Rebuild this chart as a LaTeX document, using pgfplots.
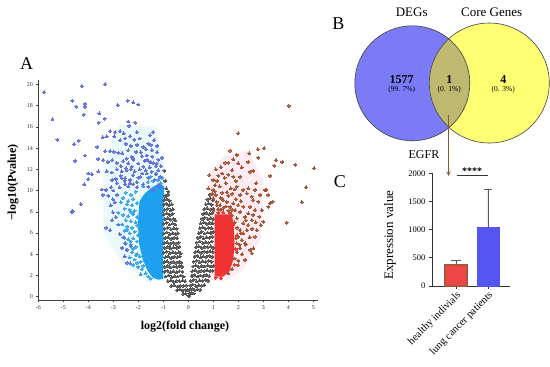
\documentclass[border=0pt]{standalone}
\usepackage{fontspec}
\setmainfont{Liberation Serif}
\usepackage{pgfplots}
\pgfplotsset{compat=1.18}
\definecolor{vblue}{RGB}{100,112,220}
\definecolor{vcyan}{RGB}{30,160,240}
\definecolor{vcyanb}{RGB}{60,165,238}
\definecolor{vred}{RGB}{240,50,50}
\definecolor{vbrown}{RGB}{165,85,50}
\definecolor{vgrey}{RGB}{88,88,88}
\definecolor{palecyan}{RGB}{234,250,252}
\definecolor{palepink}{RGB}{253,236,243}
\definecolor{cblue}{RGB}{123,123,248}
\definecolor{cyellow}{RGB}{255,255,115}
\definecolor{colive}{RGB}{190,184,112}
\definecolor{arrowbrown}{RGB}{140,90,40}
\definecolor{hred}{RGB}{240,70,70}
\definecolor{hedge}{RGB}{170,85,60}
\definecolor{lblue}{RGB}{85,85,242}
\pgfplotsset{dots/.style={only marks, mark=*, color=#1, mark size=1.45pt, mark options={line width=0pt}}}
\begin{document}
\begin{tikzpicture}
\path[use as bounding box] (0,0) rectangle (550pt,367pt);
% ---------------- Volcano plot ----------------
\begin{axis}[at={(38.3pt,67.1pt)}, anchor=south west, scale only axis,
 width=280pt, height=219.8pt,
 xmin=-6, xmax=5.2, ymin=-0.3, ymax=20.4,
 axis lines=left, axis line style={-, line width=0.6pt, black!75},
 xtick={-6,-5,...,5}, ytick={0,2,...,20},
 tick align=outside, major tick length=2pt, tick style={line width=0.5pt, black!75},
 ticklabel style={font=\fontsize{6}{6}\selectfont, black!80},
 /pgf/number format/assume math mode=true,
 xlabel={\bfseries log2(fold change)}, ylabel={\bfseries −log10(Pvalue)},
 x label style={at={(axis description cs:0.524,-0.123)}, anchor=center, font=\fontsize{12}{12}\selectfont},
 y label style={at={(axis description cs:-0.09,0.534)}, anchor=center, font=\fontsize{12}{12}\selectfont},
 clip=false]
% pale highlight backgrounds
\addplot[fill=palecyan, draw=none] coordinates {
(-0.9,1.5)(-0.9,11.5)(-1.3,16.0)(-2.8,16.2)(-3.4,12.0)(-3.4,6.0)(-2.6,3.0)(-1.6,1.4)};
\addplot[fill=palepink, draw=none] coordinates {
(0.85,1.6)(0.85,11.5)(1.4,13.2)(2.4,13.8)(3.0,11.0)(2.9,5.5)(2.2,2.5)(1.4,1.4)};
% grey (not significant)
\addplot[dots=vgrey] coordinates {
(-0.93,9.5)(-0.82,9.6)
(-0.97,9.1)(-0.86,9.2)(-0.75,9.05)
(-0.99,8.65)(-0.88,8.75)(-0.77,8.6)(-0.66,8.7)
(-0.95,8.2)(-0.83,8.3)(-0.71,8.15)(-0.62,8.25)
(-0.98,7.75)(-0.86,7.85)(-0.74,7.7)(-0.63,7.8)
(-0.94,7.3)(-0.82,7.4)(-0.7,7.25)(-0.58,7.35)(-0.52,7.2)
(-0.99,6.85)(-0.87,6.95)(-0.75,6.8)(-0.63,6.9)(-0.52,6.8)
(-0.95,6.4)(-0.82,6.5)(-0.7,6.35)(-0.58,6.45)(-0.47,6.4)
(-0.98,5.95)(-0.86,6.05)(-0.74,5.9)(-0.62,6.0)(-0.5,5.9)(-0.42,6.0)
(-0.93,5.5)(-0.81,5.6)(-0.69,5.45)(-0.57,5.55)(-0.45,5.5)
(-0.97,5.05)(-0.85,5.15)(-0.73,5.0)(-0.61,5.1)(-0.49,5.0)(-0.38,5.1)
(-0.94,4.6)(-0.82,4.7)(-0.7,4.55)(-0.58,4.65)(-0.46,4.6)(-0.36,4.7)
(-0.98,4.15)(-0.86,4.25)(-0.74,4.1)(-0.62,4.2)(-0.5,4.1)(-0.38,4.2)(-0.31,4.1)
(-0.93,3.7)(-0.81,3.8)(-0.69,3.65)(-0.57,3.75)(-0.45,3.7)(-0.34,3.8)
(-0.97,3.25)(-0.85,3.35)(-0.73,3.2)(-0.61,3.3)(-0.49,3.2)(-0.37,3.3)(-0.28,3.2)
(-0.94,2.8)(-0.82,2.9)(-0.7,2.75)(-0.58,2.85)(-0.46,2.8)(-0.34,2.9)(-0.25,2.8)
(-0.96,2.35)(-0.84,2.45)(-0.72,2.3)(-0.6,2.4)(-0.48,2.3)(-0.36,2.4)(-0.24,2.35)
(-0.9,1.9)(-0.78,2.0)(-0.66,1.85)(-0.54,1.95)(-0.42,1.9)(-0.3,2.0)(-0.19,1.9)
(-0.82,1.45)(-0.7,1.55)(-0.58,1.4)(-0.46,1.5)(-0.34,1.45)(-0.22,1.55)(-0.13,1.45)
(-0.68,1.0)(-0.56,1.1)(-0.44,0.95)(-0.32,1.05)(-0.2,1.0)(-0.09,1.05)
(-0.45,0.6)(-0.34,0.7)(-0.23,0.55)(-0.12,0.65)(-0.04,0.6)
(-0.2,0.25)(-0.1,0.3)(0.0,0.1)
(-0.96,11.87)(-0.92,10.9)(-0.88,10.2)(-0.8,9.9)
(0.86,9.6)(0.96,9.7)
(0.75,9.15)(0.87,9.25)(0.98,9.1)
(0.7,8.7)(0.81,8.8)(0.93,8.65)
(0.64,8.25)(0.76,8.35)(0.88,8.2)(0.99,8.3)
(0.6,7.8)(0.71,7.9)(0.83,7.75)(0.95,7.85)
(0.55,7.35)(0.66,7.45)(0.78,7.3)(0.9,7.4)(1.0,7.3)
(0.5,6.9)(0.62,7.0)(0.74,6.85)(0.86,6.95)(0.97,6.9)
(0.46,6.45)(0.57,6.55)(0.69,6.4)(0.81,6.5)(0.93,6.45)
(0.42,6.0)(0.53,6.1)(0.65,5.95)(0.77,6.05)(0.89,6.0)(0.99,6.1)
(0.38,5.55)(0.49,5.65)(0.61,5.5)(0.73,5.6)(0.85,5.55)(0.96,5.65)
(0.34,5.1)(0.46,5.2)(0.58,5.05)(0.7,5.15)(0.82,5.1)(0.94,5.2)
(0.31,4.65)(0.42,4.75)(0.54,4.6)(0.66,4.7)(0.78,4.65)(0.9,4.75)(1.0,4.6)
(0.28,4.2)(0.39,4.3)(0.51,4.15)(0.63,4.25)(0.75,4.2)(0.87,4.3)(0.98,4.2)
(0.25,3.75)(0.36,3.85)(0.48,3.7)(0.6,3.8)(0.72,3.75)(0.84,3.85)(0.95,3.75)
(0.22,3.3)(0.33,3.4)(0.45,3.25)(0.57,3.35)(0.69,3.3)(0.81,3.4)(0.93,3.3)
(0.19,2.85)(0.3,2.95)(0.42,2.8)(0.54,2.9)(0.66,2.85)(0.78,2.95)(0.9,2.85)(1.0,2.9)
(0.16,2.4)(0.27,2.5)(0.39,2.35)(0.51,2.45)(0.63,2.4)(0.75,2.5)(0.87,2.4)(0.97,2.45)
(0.13,1.95)(0.24,2.05)(0.36,1.9)(0.48,2.0)(0.6,1.95)(0.72,2.05)(0.84,1.95)
(0.1,1.5)(0.21,1.6)(0.33,1.45)(0.45,1.55)(0.57,1.5)(0.69,1.6)(0.79,1.5)
(0.07,1.05)(0.18,1.15)(0.3,1.0)(0.42,1.1)(0.54,1.05)(0.64,1.1)
(0.05,0.65)(0.15,0.75)(0.26,0.6)(0.37,0.7)(0.47,0.65)
(0.03,0.3)(0.12,0.35)(0.22,0.3)(0.02,0.08)
};
% dense down-regulated core
\addplot[fill=vcyan, draw=none] coordinates {
(-1.0,1.7)(-0.98,10.4)(-1.15,10.7)(-1.45,10.3)(-1.75,9.7)(-1.95,9.0)(-2.02,7.0)
(-1.97,5.0)(-1.82,3.5)(-1.62,2.4)(-1.42,1.8)(-1.2,1.6)};
% lighter blue points around the core
\addplot[dots=vcyanb] coordinates {
(-2.5,9.8)(-2.3,9.6)(-2.1,9.9)(-2.6,9.3)(-2.2,9.2)
(-2.7,8.9)(-2.45,8.7)(-2.25,8.6)(-2.05,8.8)(-2.55,8.3)(-2.35,8.2)(-2.15,8.1)
(-2.8,7.9)(-2.6,7.7)(-2.4,7.6)(-2.2,7.8)(-2.05,7.5)(-2.5,7.2)(-2.3,7.1)(-2.1,7.0)
(-2.65,6.8)(-2.45,6.6)(-2.25,6.5)(-2.05,6.7)(-2.55,6.2)(-2.35,6.0)(-2.15,6.1)(-2.0,5.8)
(-2.6,5.6)(-2.4,5.4)(-2.2,5.5)(-2.05,5.2)(-2.5,5.0)(-2.3,4.9)(-2.1,4.7)
(-2.45,4.4)(-2.25,4.2)(-2.05,4.0)(-1.95,3.8)(-2.35,3.7)(-2.15,3.5)(-1.9,3.3)
(-2.2,3.0)(-2.0,2.8)(-1.85,2.6)(-1.7,2.2)(-1.9,2.1)(-1.6,1.9)(-1.5,1.7)
(-1.8,10.4)(-1.6,10.8)(-1.4,10.9)(-1.2,11.0)(-1.1,10.7)(-1.5,11.3)(-1.3,11.6)(-1.05,11.2)
(-2.4,9.0)(-2.3,8.0)(-2.45,6.3)(-2.3,5.2)(-2.2,4.5)(-2.1,3.9)(-2.05,3.2)(-1.8,2.9)
};
% outer down-regulated points
\addplot[dots=vblue] coordinates {
(-5.77,19.25)(-5.43,16.7)(-5.24,14.8)(-4.26,19.84)(-3.33,20.03)(-4.64,18.46)(-4.13,18.15)
(-4.13,17.9)(-4.48,17.9)(-2.82,18.05)(-2.42,18.46)(-2.2,18.3)(-2.0,18.1)(-4.18,17.14)
(-3.56,17.27)(-3.34,16.76)(-3.58,16.4)(-2.4,16.5)(-2.13,16.4)(-2.37,16.1)(-4.38,14.7)
(-4.57,14.38)(-3.13,15.6)(-2.93,15.5)(-2.73,15.6)(-2.59,15.4)(-3.42,15.0)(-3.26,15.1)
(-2.96,15.1)(-2.73,14.75)(-2.53,14.9)(-2.33,15.1)(-2.16,14.8)(-2.06,15.5)(-3.64,14.1)
(-4.13,13.3)(-3.33,13.7)(-3.13,13.7)(-2.98,13.65)(-2.8,13.56)(-2.64,13.5)(-2.4,13.8)
(-2.27,13.2)(-4.53,12.8)(-3.6,12.97)(-3.4,12.87)(-3.22,12.7)(-3.04,12.87)(-2.86,12.6)
(-2.6,12.78)(-2.4,12.56)(-2.2,13.0)(-4.0,11.6)(-3.86,11.55)(-3.6,11.8)(-3.26,11.8)
(-3.06,11.7)(-2.86,12.0)(-2.66,11.8)(-2.46,11.9)(-4.0,11.08)(-4.16,10.58)(-3.46,10.1)
(-3.29,10.05)(-3.09,10.3)(-3.04,11.0)(-2.86,10.7)(-2.66,11.15)(-2.53,10.6)(-2.33,11.0)
(-4.66,7.98)(-4.62,8.07)(-4.3,8.73)(-3.42,9.6)(-3.02,9.17)(-3.02,7.95)(-3.29,6.5)
(-3.13,6.28)(-2.56,5.55)(-2.53,5.03)(-2.29,4.77)(-2.32,3.14)(-2.46,4.4)
(-1.4,15.5)(-1.53,15.2)(-1.37,14.75)(-1.6,14.4)(-1.8,14.1)(-1.46,13.8)(-1.66,13.3)
(-1.86,13.25)(-2.09,13.65)(-2.2,12.9)(-2.46,13.0)(-2.49,12.1)(-2.26,12.25)(-2.0,12.55)
(-1.8,12.25)(-1.53,12.7)(-1.26,12.55)(-1.13,11.3)(-1.29,11.55)(-1.46,11.77)(-1.66,11.6)
(-1.93,11.3)(-2.2,11.46)(-2.53,11.15)(-2.33,10.7)(-2.06,10.8)(-1.8,10.6)(-1.6,10.35)
(-1.4,10.05)(-1.13,10.35)
(-3.2,9.5)(-3.0,10.0)(-2.85,9.6)(-2.95,8.9)(-3.1,8.6)(-2.75,10.3)(-2.9,11.1)(-2.7,11.4)
(-2.55,10.9)(-2.4,10.4)(-2.2,10.6)(-2.05,10.3)(-2.0,11.2)(-1.85,11.6)(-1.7,11.9)
(-1.55,12.2)(-1.3,12.3)(-1.2,12.9)(-1.45,13.2)(-1.75,12.8)(-2.8,6.8)(-2.9,7.5)
(-3.05,7.2)(-2.75,5.9)(-2.65,4.6)(-2.55,3.8)(-2.45,3.2)
(-2.15,11.8)(-1.95,12.0)(-1.6,11.2)(-1.35,11.0)(-1.2,11.9)(-1.1,12.3)(-1.4,12.6)
(-1.65,12.9)(-1.9,13.6)(-1.7,13.9)(-1.5,14.3)(-1.25,13.6)(-2.3,14.2)(-2.5,14.4)
(-2.05,14.3)(-1.95,14.9)(-1.25,14.2)(-2.7,12.3)(-2.3,12.0)(-1.05,13.1)(-1.2,10.5)
};
% dense up-regulated core
\addplot[fill=vred, draw=none] coordinates {
(1.05,1.9)(1.05,7.75)(1.75,7.75)(1.82,6.5)(1.85,5.0)(1.8,3.5)(1.65,2.4)(1.4,1.9)};
\addplot[dots=vred] coordinates {
(1.1,1.8)(1.3,1.75)(1.85,3.0)(1.9,4.5)(1.95,5.8)(1.8,6.8)(1.65,7.9)(1.4,7.95)(1.2,7.9)
};
% outer up-regulated points
\addplot[dots=vbrown] coordinates {
(4.02,17.98)(2.0,15.4)(1.67,13.75)(1.94,13.35)(2.44,13.5)(2.78,13.88)(3.03,13.97)(2.8,13.1)
(3.51,12.87)(3.76,12.7)(3.44,12.33)(4.28,12.43)(5.03,12.09)(4.71,10.3)(3.27,11.37)(3.11,10.05)
(2.71,10.68)(2.6,11.86)(2.4,12.7)(2.14,12.18)(2.0,12.56)(1.8,12.94)(1.47,12.62)(1.6,12.62)
(2.07,11.3)(2.47,11.77)(0.84,11.46)(1.94,10.36)(2.2,10.05)(2.4,10.2)(2.67,10.05)(2.87,9.58)
(2.54,9.43)(2.34,9.74)(2.07,9.58)(1.07,10.5)(1.0,10.05)(0.8,10.2)(3.07,10.05)(3.2,9.58)
(4.54,8.9)(3.94,6.97)(3.27,8.8)(3.2,8.47)(3.38,8.95)(2.94,8.16)(2.84,7.53)(3.0,7.06)(2.9,6.75)
(2.6,9.1)(2.8,8.95)(2.47,8.47)(2.67,8.16)(2.4,7.85)(2.27,3.46)(2.54,4.09)(2.47,4.4)(2.6,4.56)
(2.0,2.98)(2.14,5.34)(2.2,5.97)(2.34,6.28)(2.4,6.75)(2.2,6.91)(2.07,6.28)(2.0,5.65)(1.94,5.03)
(2.07,4.56)(2.27,5.03)(1.8,8.79)(2.0,8.63)(2.2,8.47)(2.07,8.0)(1.87,8.16)(1.67,8.47)(1.54,8.94)
(1.4,9.1)(1.27,8.63)(1.14,8.94)(1.0,9.26)(1.74,7.69)(1.94,7.38)(2.27,7.53)(2.54,7.22)(2.74,6.28)
(2.67,5.65)
(1.85,7.0)(1.95,6.5)(2.1,6.0)(1.9,5.5)(2.05,4.9)(1.95,4.2)(2.15,4.0)(1.85,3.6)(2.0,3.4)
(1.75,2.6)(1.6,2.2)(2.3,4.9)(2.45,5.6)(2.55,6.4)(2.7,7.0)(2.3,7.2)(2.6,7.7)(1.75,8.2)(1.5,8.5)
(1.3,8.2)(1.15,8.6)(1.1,9.6)(1.35,9.8)(1.6,9.5)(1.9,9.2)(2.1,9.0)(1.25,10.4)(1.5,10.7)(1.7,10.2)
(1.9,10.9)(1.45,11.2)(1.2,11.4)
(1.0,8.1)(1.2,8.25)(1.4,8.35)(1.6,8.1)(1.05,9.95)(1.3,9.3)(1.55,9.85)(1.75,9.7)(1.15,10.9)
(1.35,11.6)(1.6,11.5)(1.8,11.3)(1.1,12.0)(1.3,12.2)(1.75,11.9)(1.0,11.0)(0.95,9.7)(1.85,10.1)
};
\end{axis}
% ---------------- Bar chart ----------------
\begin{axis}[at={(432pt,81pt)}, anchor=south west, scale only axis,
 width=78pt, height=112.7pt,
 xmin=-0.75, xmax=1.69, ymin=0, ymax=2000,
 axis lines=left, axis line style={-, line width=0.8pt, black!80},
 xtick={0,1}, xticklabels={healthy indivials, lung cancer patients},
 ytick={0,500,1000,1500,2000}, scaled y ticks=false,
 tick align=outside, major tick length=3pt, tick style={line width=0.7pt, black!80},
 x tick label style={rotate=45, anchor=north east, font=\fontsize{10.5}{10.5}\selectfont, inner sep=1pt},
 y tick label style={font=\fontsize{8.5}{8.5}\selectfont},
 /pgf/number format/assume math mode=true,
 /pgf/number format/1000 sep={},
 ylabel={Expression value},
 y label style={at={(axis description cs:-0.54,0.45)}, anchor=center, font=\fontsize{13}{13}\selectfont},
 clip=false]
\addplot[ybar, bar width=0.69, bar shift=0pt, fill=hred, draw=hedge, line width=1.3pt,
 error bars/.cd, y dir=plus, y explicit,
 error bar style={line width=0.7pt, black!65},
 error mark options={line width=0.7pt, black!65, mark size=5pt, rotate=90}]
 coordinates {(0,373) +- (0,76)};
\addplot[ybar, bar width=0.69, bar shift=0pt, fill=lblue, draw=lblue, line width=0.5pt,
 error bars/.cd, y dir=plus, y explicit,
 error bar style={line width=0.7pt, black!65},
 error mark options={line width=0.7pt, black!65, mark size=4pt, rotate=90}]
 coordinates {(1,1035) +- (0,681)};
\addplot[black!80, line width=0.7pt] coordinates {(0.03,1960)(1.0,1960)};
\end{axis}
% ---------------- Venn and panel labels ----------------
\begin{axis}[at={(0pt,0pt)}, anchor=south west, scale only axis,
 width=550pt, height=367pt, xmin=0, xmax=550, ymin=0, ymax=367,
 y dir=reverse, hide axis, clip=false]
\fill[cblue] (axis cs:412.3,83.3) circle[radius=57.5pt];
\fill[cyellow] (axis cs:489.3,83) circle[radius=60pt];
\begin{scope}
\clip (axis cs:412.3,83.3) circle[radius=57.5pt];
\fill[colive] (axis cs:489.3,83) circle[radius=60pt];
\end{scope}
\draw[black!75, line width=0.6pt] (axis cs:412.3,83.3) circle[radius=57.5pt];
\draw[black!75, line width=0.6pt] (axis cs:489.3,83) circle[radius=60pt];
\node[font=\fontsize{13}{13}\selectfont] at (axis cs:411.7,12) {DEGs};
\node[font=\fontsize{13}{13}\selectfont] at (axis cs:491.7,12) {Core Genes};
\node[font=\bfseries\fontsize{12}{12}\selectfont] at (axis cs:401.7,80) {1577};
\node[font=\fontsize{7.5}{7.5}\selectfont] at (axis cs:401.7,90) {(99. 7\%)};
\node[font=\bfseries\fontsize{12}{12}\selectfont] at (axis cs:449.3,80) {1};
\node[font=\fontsize{7.5}{7.5}\selectfont] at (axis cs:449.3,90) {(0. 1\%)};
\node[font=\bfseries\fontsize{12}{12}\selectfont] at (axis cs:503.3,80) {4};
\node[font=\fontsize{7.5}{7.5}\selectfont] at (axis cs:503.3,90) {(0. 3\%)};
\draw[arrowbrown, line width=1pt, -stealth] (axis cs:448.5,115) -- (axis cs:448.5,176);
\node[font=\fontsize{12}{12}\selectfont] at (axis cs:424,155) {EGFR};
\node[font=\bfseries\fontsize{10}{10}\selectfont] at (axis cs:472,171) {****};
\node[font=\fontsize{18}{18}\selectfont] at (axis cs:26.7,64) {A};
\node[font=\fontsize{18}{18}\selectfont] at (axis cs:338.3,24) {B};
\node[font=\fontsize{18}{18}\selectfont] at (axis cs:340,182) {C};
\end{axis}
\end{tikzpicture}
\end{document}
